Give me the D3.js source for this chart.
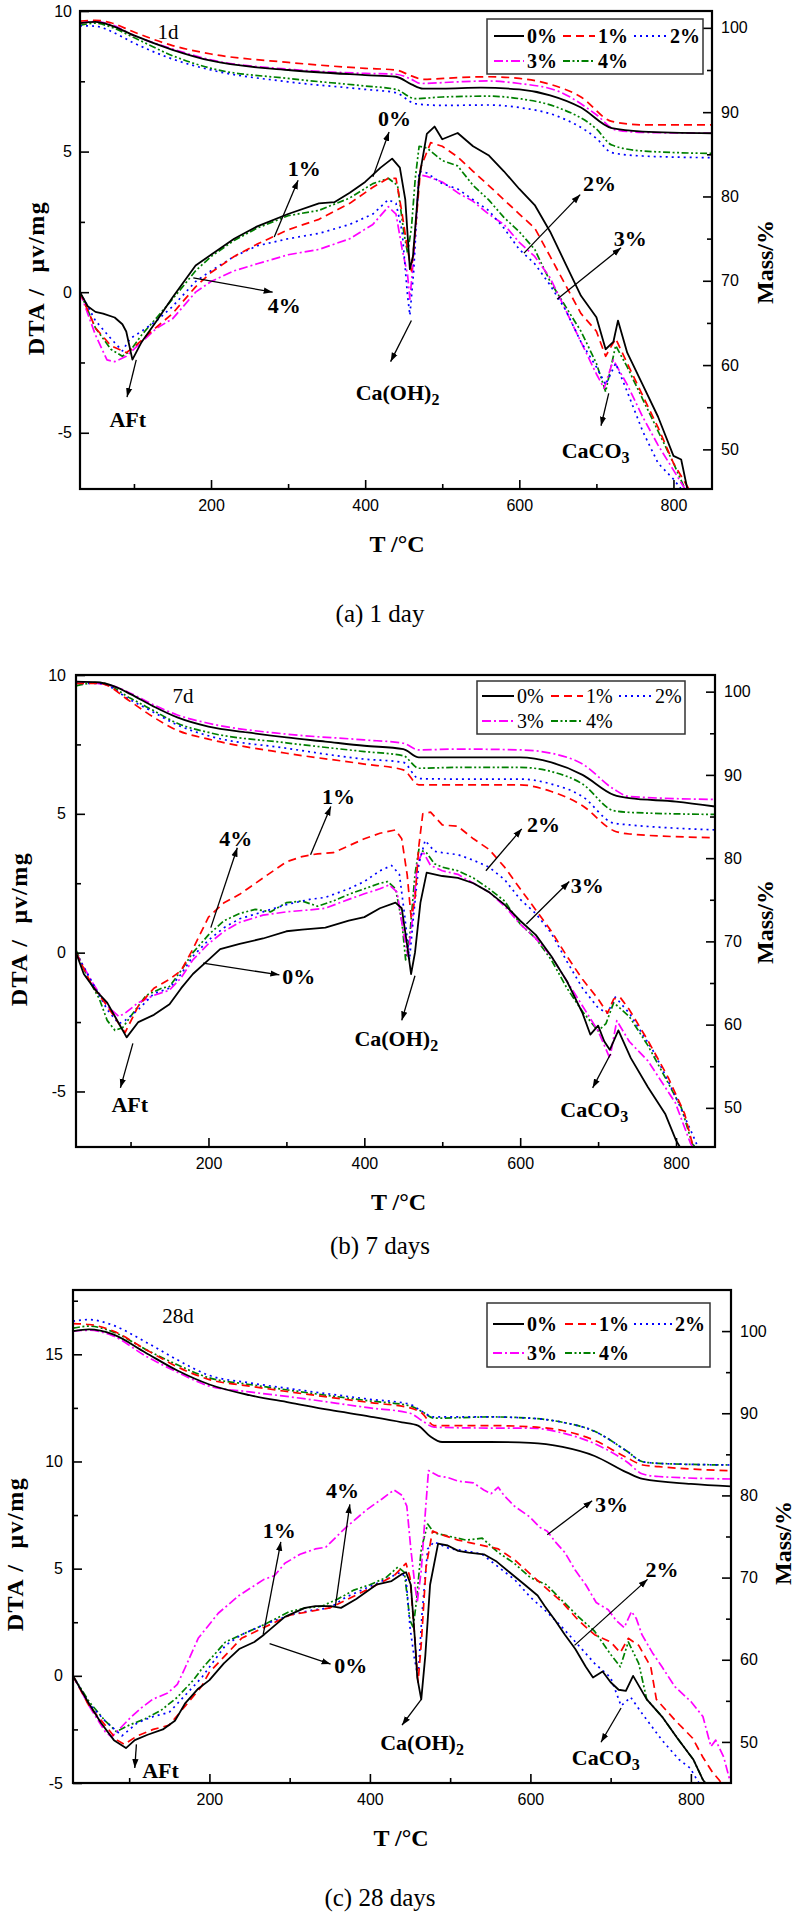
<!DOCTYPE html>
<html><head><meta charset="utf-8">
<script src="https://cdn.jsdelivr.net/npm/d3@7/dist/d3.min.js"></script>
<style>body{margin:0;background:#fff}svg{display:block}</style>
</head><body>
<svg id="c" width="798" height="1915"></svg>
<script>
// ---------------- DATA ----------------
const seriesNames = ["0%", "1%", "2%", "3%", "4%"];
const xTickLabels = [200, 400, 600, 800];
const panelTitles = ["1d", "7d", "28d"];
const captions = ["(a) 1 day", "(b) 7 days", "(c) 28 days"];

// Panel (a) 1 day — mass (TG) curves [T, %]
const mass1_0 = [[30,100.55],[50,100.7],[70,100.3],[100,99.1],[150,97.4],[200,96.1],[300,95.0],[400,94.4],[440,94.2],[460,93.3],[475,92.8],[500,92.8],[550,92.9],[600,92.7],[640,92.0],[680,90.55],[720,88.1],[760,87.7],[850,87.5]];
const mass1_1 = [[30,100.8],[50,100.9],[70,100.6],[100,99.5],[150,97.9],[200,96.9],[300,95.9],[400,95.2],[440,95.0],[460,94.3],[475,93.9],[520,94.1],[560,94.2],[600,94.0],[640,93.3],[680,91.8],[720,88.9],[760,88.5],[850,88.5]];
const mass1_2 = [[30,100.25],[50,100.2],[70,99.6],[100,98.2],[150,96.3],[200,95.0],[300,93.6],[400,92.7],[440,92.3],[465,91.0],[500,90.8],[560,90.85],[600,90.55],[650,89.5],[700,86.9],[720,85.2],[760,84.8],[850,84.6]];
const mass1_3 = [[30,100.6],[50,100.75],[70,100.4],[100,99.1],[150,97.5],[200,96.2],[300,95.1],[400,94.6],[440,94.5],[460,93.9],[472,93.4],[520,93.6],[560,93.7],[600,93.4],[650,92.5],[700,89.7],[725,87.9],[760,87.6],[850,87.5]];
const mass1_4 = [[30,100.3],[50,100.55],[70,100.1],[100,98.85],[150,96.7],[200,95.2],[300,94.0],[400,93.1],[440,92.7],[465,91.6],[500,91.8],[560,91.9],[600,91.6],[650,90.55],[700,88.0],[720,86.1],[760,85.4],[850,85.1]];

// Panel (a) 1 day — DTA curves [T, μv/mg]
const dta1_0 = [[30,0],[40,-0.5],[50,-0.7],[60,-0.76],[75,-0.9],[85,-1.14],[90,-1.4],[98,-2.4],[110,-1.77],[130,-1.0],[150,-0.19],[165,0.38],[180,0.95],[200,1.33],[230,1.9],[260,2.34],[300,2.78],[340,3.16],[360,3.2],[380,3.54],[400,3.92],[420,4.43],[435,4.75],[445,4.43],[452,3.3],[458,0.82],[462,1.27],[470,4.05],[480,5.63],[490,5.89],[500,5.44],[520,5.66],[540,5.19],[560,4.87],[580,4.3],[600,3.67],[620,3.1],[640,2.15],[660,1.01],[680,-0.13],[700,-0.89],[712,-2.03],[722,-1.77],[728,-1.01],[740,-2.15],[760,-3.29],[780,-4.43],[800,-5.82],[810,-5.95],[818,-7]];
const dta1_1 = [[30,0],[50,-1.27],[70,-1.9],[90,-2.15],[100,-1.96],[120,-1.46],[150,-0.76],[180,0.19],[200,0.7],[230,1.27],[260,1.71],[300,2.22],[340,2.59],[380,3.16],[410,3.73],[430,4.05],[440,4.05],[448,2.78],[455,1.52],[460,0.76],[465,2.15],[472,4.43],[485,5.32],[500,5.19],[520,4.81],[540,4.3],[560,3.8],[580,3.29],[600,2.78],[620,2.28],[640,1.27],[660,0.25],[680,-0.76],[700,-1.39],[712,-2.28],[725,-1.65],[740,-2.53],[760,-3.67],[780,-4.81],[800,-6.08],[820,-7]];
const dta1_2 = [[30,0],[50,-1.01],[70,-1.65],[85,-2.09],[95,-1.65],[110,-1.39],[130,-1.0],[150,-0.51],[180,0.38],[200,0.76],[230,1.27],[260,1.65],[300,1.9],[340,2.09],[380,2.41],[410,2.78],[430,3.29],[440,3.16],[448,2.15],[455,-0.13],[458,-0.82],[463,0.76],[470,4.3],[480,4.24],[500,3.86],[520,3.67],[540,3.29],[560,2.91],[580,2.28],[600,1.52],[620,1.01],[640,0.25],[660,-0.63],[680,-1.77],[700,-2.66],[712,-3.29],[725,-2.53],[740,-3.54],[760,-4.94],[780,-6.08],[800,-6.65],[810,-7]];
const dta1_3 = [[30,0],[50,-1.52],[65,-2.41],[75,-2.47],[90,-2.28],[110,-1.77],[130,-1.27],[150,-0.95],[180,0],[200,0.38],[230,0.76],[260,1.01],[300,1.33],[340,1.52],[380,1.9],[410,2.41],[430,3.04],[440,2.78],[448,1.52],[455,0.63],[458,-0.25],[463,1.27],[470,4.18],[480,4.12],[500,3.92],[520,3.54],[540,3.23],[560,2.78],[580,2.41],[600,1.77],[620,1.27],[640,0.51],[660,-0.63],[680,-1.77],[700,-2.91],[710,-3.42],[722,-2.41],[740,-3.29],[760,-4.43],[780,-5.44],[800,-6.33],[815,-7]];
const dta1_4 = [[30,0],[50,-1.27],[70,-2.03],[85,-2.28],[95,-2.09],[110,-1.52],[130,-0.89],[150,-0.25],[180,0.76],[200,1.27],[230,1.84],[260,2.28],[300,2.72],[340,2.91],[380,3.35],[410,3.86],[430,4.05],[442,3.8],[450,2.15],[455,1.39],[460,2.28],[465,4.05],[470,5.19],[480,5.13],[500,4.68],[520,4.49],[540,3.8],[560,3.29],[580,2.66],[600,2.15],[620,1.52],[640,0.38],[660,-0.51],[680,-1.39],[700,-2.53],[712,-3.54],[725,-1.9],[740,-2.66],[760,-3.8],[780,-4.94],[800,-6.08],[815,-7]];

// Panel (b) 7 days — mass
const mass2_0 = [[30,101.2],[60,101.1],[80,100.6],[100,99.7],[130,98.2],[160,96.9],[200,95.8],[250,95.1],[300,94.5],[350,94.0],[400,93.5],[450,93.1],[470,92.1],[500,92.1],[600,92.1],[640,91.5],[680,90.0],[720,87.6],[740,87.2],[800,86.8],[850,86.2]];
const mass2_1 = [[30,101.0],[60,101.0],[100,98.8],[130,96.9],[160,95.35],[200,94.3],[300,92.6],[400,91.3],[450,90.6],[470,88.8],[520,88.8],[600,88.8],[640,88.0],[680,86.3],[720,83.3],[740,82.9],[850,82.45]];
const mass2_2 = [[30,101.0],[60,101.0],[100,99.0],[130,97.5],[160,96.0],[200,94.7],[300,93.2],[400,91.9],[450,91.5],[470,89.55],[520,89.5],[600,89.5],[640,88.9],[680,87.4],[720,84.2],[740,84.0],[850,83.4]];
const mass2_3 = [[30,101.2],[80,100.6],[100,99.8],[130,98.4],[160,97.2],[200,96.2],[300,94.9],[400,94.2],[450,93.8],[470,93.0],[520,93.1],[600,93.0],[640,92.6],[680,91.3],[720,88.3],[740,87.4],[850,87.05]];
const mass2_4 = [[30,100.7],[60,101.1],[100,99.2],[130,97.7],[160,96.2],[200,95.1],[300,93.85],[400,92.8],[450,92.3],[470,90.8],[520,90.9],[600,90.9],[640,90.4],[680,88.9],[720,85.7],[740,85.5],[850,85.25]];

// Panel (b) 7 days — DTA
const dta2_0 = [[30,0],[40,-0.77],[55,-1.35],[70,-1.8],[80,-2.3],[95,-3.05],[110,-2.5],[130,-2.24],[150,-1.86],[165,-1.28],[180,-0.77],[200,-0.26],[215,0.13],[240,0.32],[270,0.51],[300,0.77],[320,0.83],[350,0.9],[380,1.15],[400,1.28],[420,1.6],[440,1.8],[448,1.6],[455,0.26],[460,-0.77],[465,0],[472,1.8],[480,2.88],[500,2.76],[520,2.69],[540,2.5],[560,2.18],[580,1.73],[600,1.15],[620,0.64],[640,-0.13],[660,-1.03],[680,-2.18],[690,-2.95],[700,-2.63],[708,-3.2],[715,-3.5],[726,-2.8],[742,-3.8],[764,-4.85],[786,-5.8],[800,-6.76],[805,-7]];
const dta2_1 = [[30,0],[50,-1.15],[70,-1.92],[85,-2.56],[93,-2.88],[110,-1.92],[130,-1.28],[150,-0.96],[165,-0.64],[180,0.13],[200,1.28],[220,1.8],[240,2.1],[270,2.69],[300,3.27],[320,3.46],[340,3.56],[360,3.6],[380,3.85],[400,4.1],[420,4.3],[440,4.42],[448,4.1],[455,2.8],[460,1.28],[465,1.92],[470,3.85],[475,5.0],[485,5.06],[500,4.6],[520,4.55],[540,4.1],[560,3.72],[580,3.08],[600,2.3],[620,1.54],[640,0.77],[660,-0.13],[680,-0.96],[700,-1.67],[712,-2.18],[720,-1.67],[728,-1.6],[740,-2.05],[764,-3.17],[790,-4.5],[811,-5.8],[822,-7]];
const dta2_2 = [[30,0],[50,-1.03],[70,-2.05],[85,-2.56],[93,-2.44],[110,-2.05],[130,-1.47],[150,-1.28],[165,-0.77],[180,-0.13],[200,0.45],[220,0.9],[240,1.22],[270,1.47],[300,1.73],[330,1.92],[350,1.99],[380,2.3],[400,2.56],[420,2.95],[435,3.14],[445,2.82],[452,1.28],[458,-0.26],[463,1.28],[470,3.2],[478,4.04],[490,3.65],[500,3.6],[520,3.53],[540,3.33],[560,3.08],[580,2.63],[600,1.92],[620,1.41],[640,0.7],[660,-0.32],[680,-1.28],[700,-1.99],[712,-2.18],[722,-1.6],[740,-2.18],[772,-3.6],[798,-5.1],[822,-6.6],[828,-7]];
const dta2_3 = [[30,0],[50,-1.03],[70,-1.92],[85,-2.3],[93,-2.18],[110,-1.8],[130,-1.54],[150,-1.35],[165,-0.9],[180,-0.26],[200,0.32],[220,0.77],[240,1.09],[270,1.35],[300,1.47],[330,1.54],[350,1.6],[380,1.92],[400,2.12],[420,2.3],[432,2.44],[442,2.18],[450,0.77],[456,-0.13],[462,1.28],[468,3.2],[475,3.65],[485,3.14],[500,2.95],[520,2.82],[540,2.5],[560,2.18],[580,1.67],[600,1.03],[620,0.51],[640,-0.13],[660,-1.03],[680,-1.92],[700,-2.82],[715,-3.8],[724,-2.45],[740,-3.2],[764,-3.9],[799,-5.4],[819,-6.9],[822,-7]];
const dta2_4 = [[30,0.1],[45,-0.9],[60,-1.67],[70,-2.44],[80,-2.8],[90,-2.7],[100,-2.3],[120,-1.54],[140,-1.28],[150,-1.22],[165,-0.64],[180,0],[200,0.64],[220,1.15],[240,1.41],[260,1.56],[280,1.47],[300,1.8],[320,1.86],[340,1.67],[360,1.86],[380,2.1],[400,2.3],[420,2.5],[430,2.56],[440,2.3],[448,1.15],[453,-0.26],[458,0.51],[465,2.82],[470,3.72],[480,3.59],[490,3.2],[500,3.08],[520,2.95],[540,2.69],[560,2.3],[580,1.86],[600,1.03],[620,0.51],[640,-0.26],[660,-1.28],[680,-2.12],[700,-2.82],[710,-2.56],[720,-1.8],[740,-2.3],[764,-3.35],[790,-4.7],[807,-5.6],[821,-6.9],[825,-7]];

// Panel (c) 28 days — mass
const mass3_0 = [[30,100.0],[50,100.2],[80,99.6],[120,97.4],[160,95.2],[200,93.5],[250,92.2],[300,91.3],[350,90.4],[400,89.6],[440,88.9],[460,88.5],[475,87.2],[490,86.5],[550,86.5],[600,86.4],[640,85.9],[680,84.8],[720,82.8],[740,82.0],[800,81.4],[850,81.1]];
const mass3_1 = [[30,100.9],[50,100.8],[80,100.0],[120,97.8],[160,95.65],[200,94.1],[250,93.3],[300,92.6],[400,91.3],[450,90.65],[465,90.0],[480,88.5],[550,88.5],[600,88.35],[640,87.9],[680,86.7],[720,84.6],[740,83.7],[760,83.5],[850,83.0]];
const mass3_2 = [[30,101.2],[50,101.4],[80,100.7],[120,98.7],[160,96.5],[200,94.6],[250,93.7],[300,93.0],[400,91.7],[450,91.1],[465,90.2],[480,89.55],[550,89.55],[600,89.4],[640,88.9],[680,87.8],[720,85.4],[740,84.1],[760,83.9],[850,83.7]];
const mass3_3 = [[30,100.0],[50,100.1],[80,99.4],[120,97.0],[160,95.0],[200,93.3],[250,92.6],[300,92.0],[400,90.65],[450,90.0],[465,89.1],[480,88.3],[550,88.2],[600,88.2],[640,87.6],[680,86.3],[720,84.1],[740,82.6],[760,82.3],[850,82.0]];
const mass3_4 = [[30,100.35],[50,100.6],[80,99.9],[120,97.8],[160,95.9],[200,94.3],[250,93.5],[300,92.8],[400,91.5],[450,90.9],[465,90.2],[480,89.4],[550,89.55],[600,89.4],[640,88.9],[680,87.8],[720,85.4],[740,84.1],[760,83.9],[850,83.7]];

// Panel (c) 28 days — DTA
const dta3_0 = [[30,0],[50,-1.3],[65,-2.2],[81,-3.0],[96,-3.37],[107,-3.0],[123,-2.75],[142,-2.5],[157,-2.1],[170,-1.27],[186,-0.6],[200,-0.2],[218,0.58],[237,1.25],[256,1.58],[268,1.92],[294,2.75],[319,3.17],[332,3.25],[351,3.25],[364,3.17],[383,3.58],[408,4.25],[427,4.42],[440,4.75],[445,4.83],[451,4.25],[456,1.75],[459,-0.08],[464,-1.1],[469,0.92],[475,4.25],[485,6.17],[497,6.08],[510,5.83],[523,5.75],[542,5.67],[558,5.33],[574,4.83],[593,4.25],[609,3.75],[618,3.25],[631,2.58],[643,1.92],[656,1.25],[669,0.42],[678,-0.08],[690,0.2],[700,-0.3],[710,-0.65],[719,-0.7],[728,0.0],[745,-1.1],[764,-1.9],[783,-2.9],[803,-3.9],[815,-4.85],[818,-5]];
const dta3_1 = [[30,0],[50,-1.4],[70,-2.3],[85,-3.0],[94,-3.2],[110,-2.8],[130,-2.5],[150,-2.3],[170,-1.4],[190,-0.5],[200,0.17],[240,1.75],[300,2.83],[350,3.17],[400,4.08],[430,4.67],[445,5.25],[450,4.58],[456,1.75],[460,-0.3],[464,1.5],[470,5.08],[478,6.75],[490,6.58],[510,6.33],[530,6.17],[560,5.92],[580,5.42],[600,4.75],[620,4.08],[640,3.42],[660,2.58],[680,1.92],[700,1.58],[712,1.08],[722,1.75],[735,1.42],[750,0.42],[757,-1.1],[781,-2.1],[802,-2.9],[815,-3.8],[827,-4.5],[835,-4.85],[838,-5]];
const dta3_2 = [[30,0],[50,-1.3],[70,-2.1],[91,-2.8],[110,-2.2],[130,-1.9],[150,-1.7],[170,-0.9],[190,-0.1],[220,1.42],[240,1.92],[270,2.42],[300,2.83],[330,3.08],[350,3.17],[370,3.67],[400,4.17],[420,4.5],[438,4.83],[445,4.58],[450,2.25],[455,0.92],[460,-0.08],[465,2.92],[472,5.92],[480,6.25],[500,5.92],[520,5.83],[540,5.67],[560,5.08],[580,4.5],[600,3.67],[620,3.0],[640,2.25],[660,1.42],[680,0.58],[700,-0.08],[713,-1.4],[725,-1.0],[740,-1.8],[764,-3.0],[785,-3.9],[799,-4.3],[810,-5]];
const dta3_3 = [[30,0],[40,-0.7],[50,-1.4],[60,-2.0],[70,-2.6],[78,-2.85],[90,-2.4],[103,-1.9],[115,-1.5],[129,-1.1],[148,-0.8],[160,-0.4],[170,0.4],[186,1.75],[211,2.92],[237,3.75],[268,4.5],[281,4.67],[294,5.25],[313,5.67],[332,5.92],[345,6.0],[370,6.92],[396,7.75],[415,8.25],[430,8.67],[440,8.42],[446,7.92],[451,5.92],[456,4.25],[459,3.42],[464,4.92],[469,7.58],[473,9.58],[485,9.33],[497,9.25],[510,9.08],[529,9.0],[542,8.67],[551,8.5],[560,8.8],[567,8.42],[580,7.92],[599,7.42],[612,6.92],[621,6.75],[631,6.25],[643,5.75],[656,4.92],[669,4.25],[682,3.42],[697,3.08],[707,2.58],[717,2.25],[726,3.0],[732,2.67],[739,1.92],[752,1.08],[764,0.42],[780,-0.5],[800,-1.2],[815,-1.9],[825,-3.3],[831,-3.0],[841,-3.8],[848,-4.8]];
const dta3_4 = [[30,0],[50,-1.2],[70,-2.1],[84,-2.6],[100,-2.3],[120,-2.0],[140,-1.6],[160,-1.0],[180,-0.2],[190,0.3],[220,1.58],[240,1.92],[270,2.42],[300,3.0],[320,3.17],[340,3.25],[360,3.58],[380,4.0],[400,4.25],[420,4.58],[435,5.08],[443,4.83],[450,2.58],[454,2.25],[458,3.5],[464,5.92],[472,7.08],[480,6.67],[500,6.5],[520,6.33],[540,6.42],[560,5.75],[580,5.25],[600,4.58],[620,4.25],[640,3.5],[660,2.75],[680,2.08],[700,1.0],[712,0.42],[722,1.58],[735,0.58],[745,-1.1],[764,-1.9],[783,-2.9],[803,-3.9],[815,-4.85],[818,-5]];

// Annotations: [label, subscript, label(T,DTA), arrow from(T,DTA), arrow to(T,DTA)]
const notes1 = [["0%","",[438,6.2],[410,4.1],[431,5.7]],["1%","",[321,4.43],[282,1.96],[313,3.98]],["4%","",[295,-0.45],[177,0.51],[280,0.0]],["2%","",[704,3.9],[606,1.39],[679,3.47]],["3%","",[744,1.92],[649,-0.25],[732,1.58]],["AFt","",[92,-4.52],[103,-2.41],[91,-3.73]],["Ca(OH)","2",[442,-3.54],[460,-1.01],[433,-2.47]],["CaCO","3",[699,-5.6],[716,-3.6],[706,-4.75]]];
const notes2 = [["1%","",[367,5.64],[331,3.53],[357,5.26]],["4%","",[235,4.14],[203,0.9],[237,3.78]],["0%","",[316,-0.83],[193,-0.38],[291,-0.8]],["2%","",[630,4.64],[556,2.95],[602,4.46]],["3%","",[686,2.44],[608,1.03],[663,2.56]],["AFt","",[99,-5.45],[103,-3.27],[87,-4.87]],["Ca(OH)","2",[441,-3.08],[465,-0.83],[448,-2.44]],["CaCO","3",[695,-5.64],[716,-3.65],[693,-4.87]]];
const notes3 = [["4%","",[366,8.67],[357,3.25],[375,8.0]],["1%","",[287,6.78],[267,1.92],[289,6.25]],["0%","",[376,0.5],[275,1.5],[351,0.55]],["3%","",[701,8.0],[621,6.58],[677,8.17]],["2%","",[764,5.0],[655,1.42],[746,4.5]],["AFt","",[139,-4.4],[109,-3.2],[107,-4.3]],["Ca(OH)","2",[465,-3.1],[464,-1.1],[440,-2.3]],["CaCO","3",[694,-3.8],[713,-1.5],[688,-3.1]]];

// ---------------- DRAWING ----------------
const colors = ["#000000", "#ff0000", "#0000ff", "#ff00ff", "#008000"];
const dashes = [null, "8,5", "2,4", "9,3,2,3", "7,2.5,2,2.5,2,2.5"];
const svg = d3.select("#c");
const defs = svg.append("defs");
defs.append("marker").attr("id", "ah").attr("viewBox", "0 0 10 10").attr("refX", 10).attr("refY", 5)
  .attr("markerWidth", 9).attr("markerHeight", 9).attr("markerUnits", "userSpaceOnUse").attr("orient", "auto")
  .append("path").attr("d", "M0,1.5 L10,5 L0,8.5 Z").attr("fill", "#000");

const SERIF = "'Liberation Serif','Times New Roman',serif";
const SANS = "'Liberation Sans',Arial,sans-serif";

function drawPanel(p, idx) {
  const g = svg.append("g");
  const x = d3.scaleLinear().domain([30, 850]).range([p.left, p.right]);
  const y = d3.scaleLinear().domain(p.dta).range([p.bottom, p.top]);
  const y2 = d3.scaleLinear().domain(p.mass).range([p.bottom, p.top]);
  const cid = "clip" + idx;
  defs.append("clipPath").attr("id", cid).append("rect")
    .attr("x", p.left).attr("y", p.top).attr("width", p.right - p.left).attr("height", p.bottom - p.top);
  const curves = g.append("g").attr("clip-path", `url(#${cid})`);
  const lineD = d3.line().x(d => x(d[0])).y(d => y(d[1]));
  const lineM = d3.line().x(d => x(d[0])).y(d => y2(d[1])).curve(d3.curveMonotoneX);
  const order = [4, 3, 2, 1, 0];
  order.forEach(i => {
    curves.append("path").attr("d", lineM(p.massSeries[i])).attr("fill", "none")
      .attr("stroke", colors[i]).attr("stroke-width", i === 0 ? 1.8 : 1.7).attr("stroke-dasharray", dashes[i]);
  });
  order.forEach(i => {
    curves.append("path").attr("d", lineD(p.dtaSeries[i])).attr("fill", "none")
      .attr("stroke", colors[i]).attr("stroke-width", i === 0 ? 1.8 : 1.7).attr("stroke-dasharray", dashes[i])
      .attr("stroke-linejoin", "round");
  });

  // axes
  const styleAxis = s => { s.select(".domain").remove(); s.selectAll("line").attr("stroke", "#000").attr("stroke-width", 1.6);
    s.selectAll("text").attr("font-family", SANS).attr("font-size", 16).attr("fill", "#000"); };
  const minorX = d3.range(100, 850, 200);
  g.append("g").attr("transform", `translate(0,${p.bottom})`)
    .call(d3.axisBottom(x).tickValues(xTickLabels).tickSizeInner(-9).tickSizeOuter(0).tickPadding(p.xPad)).call(styleAxis);
  g.append("g").attr("transform", `translate(0,${p.bottom})`)
    .call(d3.axisBottom(x).tickValues(minorX).tickSizeInner(-5).tickSizeOuter(0).tickFormat("")).call(styleAxis);
  g.append("g").attr("transform", `translate(${p.left},0)`)
    .call(d3.axisLeft(y).tickValues(p.dtaTicks).tickSizeInner(-9).tickSizeOuter(0).tickPadding(p.yPad).tickFormat(d => d < 0 ? "-" + Math.abs(d) : String(d))).call(styleAxis);
  g.append("g").attr("transform", `translate(${p.left},0)`)
    .call(d3.axisLeft(y).tickValues(p.dtaMinor).tickSizeInner(-5).tickSizeOuter(0).tickFormat("")).call(styleAxis);
  g.append("g").attr("transform", `translate(${p.right},0)`)
    .call(d3.axisRight(y2).tickValues(p.massTicks).tickSizeInner(-9).tickSizeOuter(0).tickPadding(9)).call(styleAxis);
  g.append("g").attr("transform", `translate(${p.right},0)`)
    .call(d3.axisRight(y2).tickValues(p.massMinor).tickSizeInner(-5).tickSizeOuter(0).tickFormat("")).call(styleAxis);

  // frame
  g.append("rect").attr("x", p.left).attr("y", p.top).attr("width", p.right - p.left).attr("height", p.bottom - p.top)
    .attr("fill", "none").attr("stroke", "#000").attr("stroke-width", 2.2);

  // axis titles
  g.append("text").attr("x", (p.left + p.right) / 2 + p.tOff).attr("y", p.bottom + 63).attr("text-anchor", "middle")
    .attr("font-family", SERIF).attr("font-weight", "bold").attr("font-size", 24).text("T /°C");
  g.append("text").attr("transform", `translate(${p.yTitleX},${p.yTitleY}) rotate(-90)`).attr("text-anchor", "middle")
    .attr("dominant-baseline", "central").attr("font-family", SERIF).attr("font-weight", "bold").attr("font-size", 24)
    .attr("letter-spacing", 1.5).attr("xml:space", "preserve").text("DTA /  μv/mg");
  g.append("text").attr("transform", `translate(${p.mTitleX},${p.mTitleY}) rotate(-90)`).attr("text-anchor", "middle")
    .attr("dominant-baseline", "central").attr("font-family", SERIF).attr("font-weight", "bold").attr("font-size", 24)
    .text("Mass/%");

  // panel label
  g.append("text").attr("x", p.tagX).attr("y", p.tagY).attr("text-anchor", "middle").attr("dominant-baseline", "central")
    .attr("font-family", SERIF).attr("font-size", 21).text(panelTitles[idx]);

  // caption
  g.append("text").attr("x", 380).attr("y", p.capY).attr("text-anchor", "middle").attr("dominant-baseline", "central")
    .attr("font-family", SERIF).attr("font-size", 25).text(captions[idx]);

  // legend
  const L = p.legend;
  g.append("rect").attr("x", L.x0).attr("y", L.y0).attr("width", L.x1 - L.x0).attr("height", L.y1 - L.y0)
    .attr("fill", "#fff").attr("stroke", "#333").attr("stroke-width", 1.5);
  seriesNames.forEach((nm, i) => {
    const col = i % 3, row = Math.floor(i / 3);
    const yy = L.rows[row];
    const [s0, s1] = L.samples[col];
    g.append("line").attr("x1", s0).attr("x2", s1).attr("y1", yy).attr("y2", yy)
      .attr("stroke", colors[i]).attr("stroke-width", 2).attr("stroke-dasharray", dashes[i]);
    g.append("text").attr("x", s1 + 3).attr("y", yy).attr("dominant-baseline", "central")
      .attr("font-family", SERIF).attr("font-weight", L.bold ? "bold" : "normal").attr("font-size", 20).text(nm);
  });

  // annotations
  p.notes.forEach(n => {
    const [lab, sub, at, from, to] = n;
    g.append("line").attr("x1", x(from[0])).attr("y1", y(from[1])).attr("x2", x(to[0])).attr("y2", y(to[1]))
      .attr("stroke", "#000").attr("stroke-width", 1.3).attr("marker-end", "url(#ah)");
    const t = g.append("text").attr("x", x(at[0])).attr("y", y(at[1])).attr("text-anchor", "middle")
      .attr("dominant-baseline", "central").attr("font-family", SERIF).attr("font-weight", "bold").attr("font-size", 22);
    t.append("tspan").text(lab);
    if (sub) t.append("tspan").attr("font-size", 16).attr("dy", 7).text(sub);
  });
}

const panels = [
  { left: 80, right: 712, top: 11, bottom: 489, dta: [-7, 10], mass: [45.3, 102],
    dtaTicks: [-5, 0, 5, 10], dtaMinor: [-2.5, 2.5, 7.5], massTicks: [50, 60, 70, 80, 90, 100], massMinor: [55, 65, 75, 85, 95],
    xPad: 11, yPad: 8, tOff: 1, yTitleX: 36, yTitleY: 278, mTitleX: 765, mTitleY: 262, tagX: 168, tagY: 32, capY: 613,
    massSeries: [mass1_0, mass1_1, mass1_2, mass1_3, mass1_4], dtaSeries: [dta1_0, dta1_1, dta1_2, dta1_3, dta1_4],
    legend: { x0: 487, y0: 19, x1: 703, y1: 74, rows: [36, 61], samples: [[494, 524], [563, 595], [634, 667]], bold: true },
    notes: notes1 },
  { left: 76, right: 715, top: 675, bottom: 1147, dta: [-7, 10], mass: [45.3, 102],
    dtaTicks: [-5, 0, 5, 10], dtaMinor: [-2.5, 2.5, 7.5], massTicks: [50, 60, 70, 80, 90, 100], massMinor: [55, 65, 75, 85, 95],
    xPad: 11, yPad: 10, tOff: 3, yTitleX: 19, yTitleY: 929, mTitleX: 765, mTitleY: 922, tagX: 183, tagY: 696, capY: 1245,
    massSeries: [mass2_0, mass2_1, mass2_2, mass2_3, mass2_4], dtaSeries: [dta2_0, dta2_1, dta2_2, dta2_3, dta2_4],
    legend: { x0: 477, y0: 681, x1: 685, y1: 734, rows: [696, 721], samples: [[482, 514], [551, 583], [619, 652]], bold: false },
    notes: notes2 },
  { left: 73, right: 731, top: 1290, bottom: 1783, dta: [-5, 18], mass: [45, 105],
    dtaTicks: [-5, 0, 5, 10, 15], dtaMinor: [-2.5, 2.5, 7.5, 12.5, 17.5], massTicks: [50, 60, 70, 80, 90, 100], massMinor: [55, 65, 75, 85, 95],
    xPad: 11, yPad: 10, tOff: -1, yTitleX: 15, yTitleY: 1554, mTitleX: 783, mTitleY: 1543, tagX: 178, tagY: 1316, capY: 1897,
    massSeries: [mass3_0, mass3_1, mass3_2, mass3_3, mass3_4], dtaSeries: [dta3_0, dta3_1, dta3_2, dta3_3, dta3_4],
    legend: { x0: 487, y0: 1303, x1: 710, y1: 1367, rows: [1324, 1353], samples: [[493, 524], [565, 596], [634, 672]], bold: true },
    notes: notes3 }
];
panels.forEach(drawPanel);
</script>
</body></html>
